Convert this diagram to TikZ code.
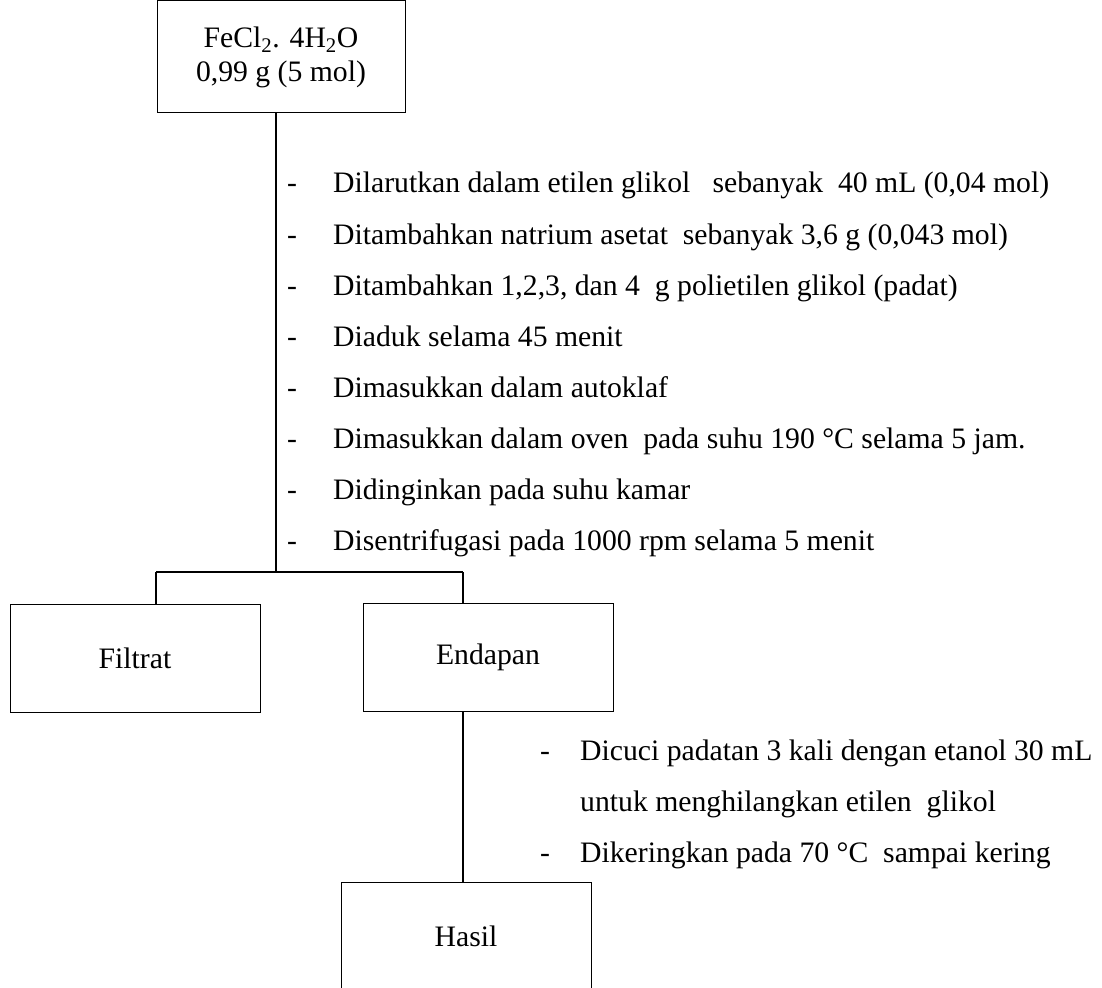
\documentclass[tikz,border=0pt]{standalone}
\usepackage{fontspec}
\setmainfont{Liberation Serif}
\usetikzlibrary{positioning}
\newcommand{\huruf}{\fontsize{29.7}{34}\selectfont}
\newcommand{\butir}{\makebox[46pt][l]{-}}
\tikzstyle{kotak}=[draw, line width=1pt, minimum width=250pt, minimum height=108pt, align=center, font=\huruf]
\tikzstyle{teks}=[anchor=base west, font=\huruf]
\tikzstyle{garis}=[line width=1.8pt]

\begin{document}
\begin{tikzpicture}[x=1pt,y=-1pt,inner sep=0pt]
\useasboundingbox (0,0) rectangle (1102,987);

\node (fecl) [kotak,minimum width=248pt,minimum height=112pt] at (281,57) {FeCl\textsubscript{2}. 4H\textsubscript{2}O\\0,99 g (5 mol)};
\node (filtrat) [kotak] at (135,658) {Filtrat};
\node (endapan) [kotak] at (488,657) {Endapan};
\node (hasil) [kotak] at (466,936) {Hasil};

\coordinate (split) at (276,572);
\coordinate (kiri) at (156,572);
\coordinate (kanan) at (463,572);

% langkah pertama
\node (a1) [teks] at (287,193) {\butir Dilarutkan dalam etilen glikol \ \ sebanyak \ 40 mL (0,04 mol)};
\node (a2) [teks] at (287,244) {\butir Ditambahkan natrium asetat \ sebanyak 3,6 g (0,043 mol)};
\node (a3) [teks] at (287,295) {\butir Ditambahkan 1,2,3, dan 4 \ g polietilen glikol (padat)};
\node (a4) [teks] at (287,346) {\butir Diaduk selama 45 menit};
\node (a5) [teks] at (287,397) {\butir Dimasukkan dalam autoklaf};
\node (a6) [teks] at (287,448) {\butir Dimasukkan dalam oven \ pada suhu 190 °C selama 5 jam.};
\node (a7) [teks] at (287,499) {\butir Didinginkan pada suhu kamar};
\node (a8) [teks] at (287,550) {\butir Disentrifugasi pada 1000 rpm selama 5 menit};

% langkah kedua
\node (b1) [teks] at (540,760) {\makebox[40pt][l]{-}Dicuci padatan 3 kali dengan etanol 30 mL};
\node (b2) [teks] at (580,811) {untuk menghilangkan etilen \ glikol};
\node (b3) [teks] at (540,862) {\makebox[40pt][l]{-}Dikeringkan pada 70 °C \ sampai kering};

\draw[garis] (fecl.south -| split) -- (split);
\draw[garis] (kiri) -- (kanan);
\draw[garis] (kiri) -- (kiri |- filtrat.north);
\draw[garis] (kanan) -- (kanan |- endapan.north);
\draw[garis] (kanan |- endapan.south) -- (kanan |- hasil.north);

\end{tikzpicture}
\end{document}
